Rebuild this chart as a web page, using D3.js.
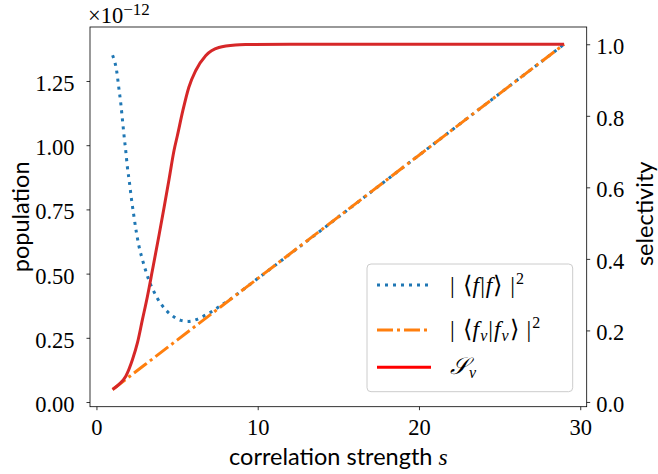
<!DOCTYPE html>
<html>
<head>
<meta charset="utf-8">
<script src="https://cdn.jsdelivr.net/npm/d3@7"></script>
</head>
<body style="margin:0">
<svg id="chart" width="658" height="474"></svg>
<script>
// -------------------------------
// Data
// -------------------------------
const blueS = [1, 1.26, 1.385, 1.51, 1.61, 1.71, 1.82, 1.92, 2.05, 2.17, 2.31, 2.46, 2.64, 2.89,
  3.18, 3.36, 3.57, 3.80, 4.06, 4.40, 4.79, 5.24, 5.71, 6.19, 6.62, 7.07, 7.6, 8.2, 10, 20, 29];
const blueVals = [1.35, 1.286, 1.224, 1.162, 1.100, 1.038, 0.976, 0.914, 0.853, 0.791, 0.729, 0.667, 0.606, 0.546,
  0.487, 0.457, 0.429, 0.401, 0.377, 0.352, 0.332, 0.318, 0.314, 0.321, 0.334, 0.349, 0.371, 0.396, 0.481, 0.961, 1.393];

const orangeS = [1, 5, 10, 15, 20, 25, 29];
const orangeVals = [0.049, 0.241, 0.481, 0.721, 0.961, 1.201, 1.393];

const redS = [1, 1.40, 1.82, 2.23, 2.54, 2.85, 3.16, 3.47, 3.88, 4.19, 4.50, 4.81, 5.02, 5.36,
  5.73, 6.15, 6.77, 7.59, 8.62, 9.24, 12, 29];
const redVals = [0.035, 0.049, 0.072, 0.118, 0.165, 0.230, 0.295, 0.368, 0.466, 0.543, 0.622, 0.703, 0.745, 0.815,
  0.880, 0.926, 0.968, 0.991, 0.998, 0.999, 1.0, 1.0];

const xTicks = [0, 10, 20, 30];
const leftTicks = [0, 0.25, 0.5, 0.75, 1.0, 1.25];
const rightTicks = [0, 0.2, 0.4, 0.6, 0.8, 1.0];

const SERIF = "'Liberation Serif'";
const SANS = "Lato";

// -------------------------------
// Layout
// -------------------------------
const svg = d3.select("#chart");
const margin = { left: 90, top: 27, right: 71.3, bottom: 67.3 };
const W = 658 - margin.left - margin.right;
const H = 474 - margin.top - margin.bottom;

// matplotlib style 5% margins
function padded(lo, hi) {
  const m = (hi - lo) * 0.05;
  return [lo - m, hi + m];
}

const allS = blueS.concat(orangeS, redS);
const x = d3.scaleLinear().domain(padded(d3.min(allS), d3.max(allS))).range([0, W]);
const leftVals = blueVals.concat(orangeVals);
const yL = d3.scaleLinear().domain(padded(d3.min(leftVals), d3.max(leftVals))).range([H, 0]);
const yR = d3.scaleLinear().domain(padded(d3.min(redVals), d3.max(redVals))).range([H, 0]);

const g = svg.append("g").attr("transform", `translate(${margin.left},${margin.top})`);

// ---------- lines ----------
function drawLine(sArr, vArr, yScale, color, dash) {
  const pts = sArr.map((s, i) => [s, vArr[i]]);
  const line = d3.line()
    .x((d) => x(d[0]))
    .y((d) => yScale(d[1]))
    .curve(d3.curveMonotoneX);
  g.append("path")
    .datum(pts)
    .attr("d", line)
    .attr("fill", "none")
    .attr("stroke", color)
    .attr("stroke-width", 3)
    .attr("stroke-dasharray", dash);
}

drawLine(blueS, blueVals, yL, "#1f77b4", "3,5");
drawLine(orangeS, orangeVals, yL, "#ff7f0e", "16,4,3,4");
drawLine(redS, redVals, yR, "#d62728", null);

// ---------- axes ----------
const xAxis = g.append("g")
  .attr("transform", `translate(0,${H})`)
  .call(d3.axisBottom(x).tickValues(xTicks).tickSize(3.5).tickPadding(6).tickFormat(d3.format("d")));
const leftAxis = g.append("g")
  .call(d3.axisLeft(yL).tickValues(leftTicks).tickSize(3.5).tickPadding(12).tickFormat(d3.format(".2f")));
const rightAxis = g.append("g")
  .attr("transform", `translate(${W},0)`)
  .call(d3.axisRight(yR).tickValues(rightTicks).tickSize(3.5).tickPadding(6).tickFormat(d3.format(".1f")));

[xAxis, leftAxis, rightAxis].forEach((a) => {
  a.attr("font-family", null).attr("font-size", null);
  a.select(".domain").remove();
  a.selectAll(".tick line").attr("stroke", "#000").attr("stroke-width", 0.8);
  a.selectAll(".tick text")
    .attr("fill", "#000")
    .attr("font-family", SERIF)
    .attr("font-size", 22.5);
});
xAxis.selectAll(".tick text").attr("dy", "0.83em");
leftAxis.selectAll(".tick text").attr("dy", "0.42em");
rightAxis.selectAll(".tick text").attr("dy", "0.42em");

// spines
g.append("rect")
  .attr("width", W).attr("height", H)
  .attr("fill", "none").attr("stroke", "#000").attr("stroke-width", 0.8);

// offset text
const off = svg.append("text")
  .attr("font-family", SERIF).attr("font-size", 22.5)
  .attr("x", 88).attr("y", 23);
off.append("tspan").text("×10");
off.append("tspan").attr("dy", -8).attr("font-size", 17).text("−12");

// ---------- axis labels ----------
const xl = svg.append("text")
  .attr("font-family", SANS).attr("font-size", 23.5)
  .attr("x", margin.left + W / 2).attr("y", 465).attr("text-anchor", "middle");
xl.append("tspan").text("correlation strength ");
xl.append("tspan").attr("font-family", SERIF).attr("font-style", "italic").text("s");

svg.append("text")
  .attr("font-family", SANS).attr("font-size", 23.5)
  .attr("transform", `translate(29,${margin.top + H / 2}) rotate(-90)`)
  .attr("text-anchor", "middle").text("population");

svg.append("text")
  .attr("font-family", SANS).attr("font-size", 23.5)
  .attr("transform", `translate(653,${margin.top + H / 2 - 3}) rotate(-90)`)
  .attr("text-anchor", "middle").text("selectivity");

// ---------- legend ----------
const legend = svg.append("g");
legend.append("rect")
  .attr("x", 367).attr("y", 264).attr("width", 205.7).attr("height", 127.7)
  .attr("rx", 4)
  .attr("fill", "#fff").attr("fill-opacity", 0.8)
  .attr("stroke", "#ccc").attr("stroke-width", 1);

const legendItems = [
  { color: "#1f77b4", dash: "3,5", y: 285 },
  { color: "#ff7f0e", dash: "16,4,3,4", y: 330 },
  { color: "#ff0000", dash: null, y: 367.3 },
];
legendItems.forEach((d) => {
  legend.append("line")
    .attr("x1", 377).attr("x2", 431).attr("y1", d.y).attr("y2", d.y)
    .attr("stroke", d.color).attr("stroke-width", 3)
    .attr("stroke-dasharray", d.dash);
});

function mathText(yy) {
  return legend.append("text")
    .attr("font-family", SERIF).attr("font-size", 23.5)
    .attr("letter-spacing", 1)
    .attr("x", 450).attr("y", yy);
}
// |<f|f>|^2
const t1 = mathText(293);
t1.append("tspan").text("| ⟨");
t1.append("tspan").attr("font-style", "italic").text("f");
t1.append("tspan").text("|");
t1.append("tspan").attr("font-style", "italic").text("f");
t1.append("tspan").text("⟩ |");
t1.append("tspan").attr("dy", -9).attr("font-size", 16).text("2");

// |<f_nu|f_nu>|^2
const t2 = mathText(337);
t2.append("tspan").text("| ⟨");
t2.append("tspan").attr("font-style", "italic").text("f");
t2.append("tspan").attr("font-style", "italic").attr("font-size", 16).attr("dy", 4).text("ν");
t2.append("tspan").attr("dy", -4).text("|");
t2.append("tspan").attr("font-style", "italic").text("f");
t2.append("tspan").attr("font-style", "italic").attr("font-size", 16).attr("dy", 4).text("ν");
t2.append("tspan").attr("dy", -4).text("⟩ |");
t2.append("tspan").attr("dy", -9).attr("font-size", 16).text("2");

// S_nu
const t3 = mathText(374);
t3.append("tspan").attr("font-style", "italic").text("𝒮");
t3.append("tspan").attr("font-style", "italic").attr("font-size", 16).attr("dy", 4).text("ν");
</script>
</body>
</html>
